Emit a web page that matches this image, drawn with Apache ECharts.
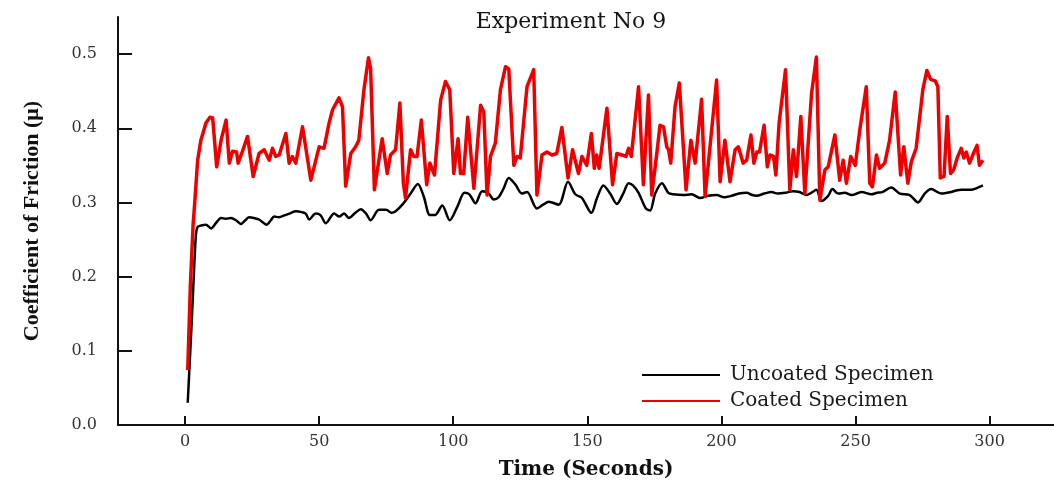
<!DOCTYPE html>
<html>
<head>
<meta charset="utf-8">
<script src="https://cdn.jsdelivr.net/npm/echarts@6/dist/echarts.min.js"></script>
<style>
html,body{margin:0;padding:0;background:#fff;}
#chart{width:1054px;height:487px;}
</style>
</head>
<body>
<div id="chart"></div>
<script>
const titleText = 'Experiment No 9';
const xName = 'Time (Seconds)';
const yName = 'Coefficient of Friction (\u03bc)';
const seriesNames = ['Uncoated Specimen', 'Coated Specimen'];
const xTicks = [0, 50, 100, 150, 200, 250, 300];
const yTicks = [0, 0.1, 0.2, 0.3, 0.4, 0.5];

const uncoatedTime = [1,2.5,3.5,4.1,4.7,6,7.8,9.7,11.5,13.4,15.3,17.1,19,20.8,22.5,23.9,25.7,27.6,30.4,32,33.2,35,37.3,39,41.3,43.5,45,46.3,48.7,50.5,52.5,55.6,57.5,59.3,61.1,63.5,65.5,67.5,69.2,72.3,75,77,78.5,81,84.1,86.8,89,91.3,93.2,95.9,98.7,101.5,104.2,106,108.3,110.8,113.2,115.1,116.9,118.8,120.7,123.2,125.6,127.5,131.2,133.5,135.6,139.3,142.8,145.5,148,151.5,153.6,156,158.5,161,163.5,165.4,167,169.1,171.8,173.4,175.3,177.8,180.2,182.1,185.8,188.9,192,195,198.2,201,203.8,206.5,209.4,211.5,213.1,216,218.7,221,223.8,226.5,229.1,231.7,233.5,235.4,237.3,239.8,241.4,243.5,246,248.5,250.5,252.2,255.9,258,260,263.3,266.5,270.2,273.3,275.8,278.2,281.9,285.6,287.5,289.4,293.1,295,297.5];
const uncoated = [0.030,0.14,0.22,0.258,0.267,0.269,0.270,0.265,0.272,0.279,0.278,0.279,0.276,0.271,0.276,0.280,0.279,0.277,0.270,0.276,0.281,0.280,0.283,0.285,0.288,0.287,0.285,0.277,0.285,0.283,0.272,0.285,0.281,0.285,0.279,0.286,0.291,0.285,0.276,0.290,0.290,0.286,0.288,0.297,0.312,0.325,0.308,0.283,0.283,0.296,0.276,0.294,0.313,0.311,0.299,0.315,0.312,0.304,0.307,0.319,0.333,0.324,0.312,0.314,0.292,0.297,0.301,0.297,0.328,0.311,0.306,0.286,0.306,0.323,0.312,0.298,0.313,0.326,0.323,0.313,0.292,0.289,0.312,0.326,0.313,0.311,0.310,0.311,0.306,0.309,0.310,0.307,0.309,0.312,0.313,0.310,0.309,0.312,0.314,0.312,0.313,0.315,0.314,0.310,0.313,0.317,0.302,0.309,0.318,0.312,0.313,0.310,0.312,0.314,0.311,0.313,0.314,0.320,0.312,0.310,0.300,0.312,0.318,0.312,0.314,0.316,0.317,0.317,0.319,0.323];

const coatedTime = [1,2,3,3.5,4.7,5.9,7.8,9.3,10.3,11.8,13.5,15.3,16.5,17.7,19.2,19.8,21.5,23.3,25.4,27.6,29.5,31.4,32.6,33.8,35.1,37.6,38.8,40,41.3,43.8,46.9,50,51.8,53.7,55,57.4,58.7,59.9,61.8,63.6,64.8,66.7,68.4,69.2,70.6,73.5,75.4,76.6,78.5,80.1,81.4,82.2,84.1,85.3,86.5,88.1,90.1,91.3,93,95.3,97.1,98.7,100.2,101.8,102.7,103.9,105.4,107.7,110.2,111.4,112.6,113.9,115.7,117.6,119.5,120.7,122.6,123.8,125,127.5,130,131.2,133.1,134.9,136.8,138.6,140.5,142.8,144.5,146.7,148,149.8,151.5,152.6,153.5,154.4,157.3,159.4,161,162.9,164.4,165.4,166.4,169.1,170.9,172.8,174,175.9,177.1,178.4,179.6,180.3,181.1,182.7,184.3,186.8,188.6,190.2,192.6,193.9,198.2,199.5,201.3,203.2,205.1,206.3,208.1,209.4,211,212.1,213.2,214.2,215.9,217.1,218.1,219.4,220.3,221.5,223.9,225.5,226.8,228,229.6,231.1,233.6,235.4,236.7,238.6,239.8,242.3,244.1,245.4,246.6,248.2,249.9,251.6,254,255.3,256.3,257.8,259,260.9,262.7,264.8,266.8,268,269.5,270.8,272.6,275.1,276.6,278,279.7,280.7,281.6,283,284.2,285.4,286.6,287.9,289.4,290.4,291.3,292.5,294.2,295.3,296.2,297.5];
const coated = [0.074,0.19,0.27,0.294,0.357,0.384,0.407,0.415,0.414,0.348,0.385,0.411,0.353,0.369,0.368,0.353,0.370,0.389,0.335,0.366,0.371,0.357,0.373,0.362,0.364,0.393,0.353,0.362,0.353,0.402,0.330,0.375,0.373,0.407,0.425,0.441,0.429,0.322,0.366,0.375,0.384,0.452,0.495,0.480,0.317,0.386,0.339,0.364,0.371,0.434,0.326,0.306,0.371,0.362,0.362,0.411,0.324,0.353,0.337,0.438,0.463,0.452,0.339,0.386,0.339,0.339,0.415,0.319,0.431,0.422,0.310,0.362,0.380,0.452,0.483,0.480,0.350,0.362,0.360,0.456,0.479,0.310,0.364,0.368,0.364,0.366,0.401,0.333,0.371,0.339,0.362,0.350,0.393,0.346,0.364,0.346,0.427,0.324,0.366,0.364,0.362,0.373,0.362,0.456,0.324,0.445,0.310,0.366,0.404,0.402,0.375,0.371,0.353,0.429,0.461,0.317,0.384,0.353,0.439,0.308,0.465,0.328,0.384,0.328,0.371,0.375,0.353,0.357,0.391,0.353,0.368,0.368,0.404,0.348,0.364,0.362,0.337,0.407,0.479,0.317,0.371,0.335,0.416,0.312,0.447,0.496,0.303,0.344,0.348,0.391,0.330,0.357,0.326,0.362,0.350,0.398,0.456,0.326,0.321,0.364,0.346,0.353,0.384,0.449,0.337,0.375,0.326,0.355,0.373,0.452,0.478,0.466,0.464,0.456,0.333,0.335,0.416,0.339,0.344,0.360,0.373,0.360,0.368,0.353,0.368,0.377,0.350,0.357];

function zip(xs, ys){ return xs.map((x,i)=>[x, ys[i]]); }

const chart = echarts.init(document.getElementById('chart'), null, {renderer:'canvas'});
const serif = 'DejaVu Serif';
chart.setOption({
  animation: false,
  backgroundColor: '#ffffff',
  title: {
    text: titleText,
    left: 566, top: 6, textAlign: 'center',
    textStyle: {fontFamily: serif, fontSize: 22, fontWeight: 'normal', color: '#151515'}
  },
  legend: {
    orient: 'vertical', left: 642, top: 365, padding: 0,
    itemWidth: 78, itemHeight: 2, itemGap: 6, icon: 'rect',
    textStyle: {fontFamily: serif, fontSize: 20, color: '#1a1a1a', padding: [0,0,0,5]},
    data: seriesNames
  },
  grid: {left: 118, right: 0, top: 17, bottom: 62, containLabel: false},
  xAxis: {
    type: 'value', min: -25, max: 324,
    name: xName, nameLocation: 'middle', nameGap: 35,
    nameTextStyle: {fontFamily: serif, fontSize: 20, fontWeight: 'bold', color: '#111'},
    axisLine: {show: true, onZero: false, lineStyle: {color: '#111', width: 2}},
    axisTick: {show: true, inside: true, length: 9, lineStyle: {color: '#111', width: 2}, customValues: xTicks},
    axisLabel: {fontFamily: serif, fontSize: 16, color: '#333', margin: 9, customValues: xTicks},
    splitLine: {show: false}
  },
  yAxis: {
    type: 'value', min: 0, max: 0.55,
    name: yName, nameLocation: 'middle', nameGap: 75,
    nameTextStyle: {fontFamily: 'Liberation Serif', fontSize: 22, fontWeight: 'bold', color: '#111'},
    axisLine: {show: true, onZero: false, lineStyle: {color: '#111', width: 2}},
    axisTick: {show: true, inside: true, length: 14, lineStyle: {color: '#111', width: 2}, customValues: yTicks},
    axisLabel: {fontFamily: serif, fontSize: 16, color: '#333', margin: 21, customValues: yTicks,
      formatter: v => v.toFixed(1)},
    splitLine: {show: false}
  },
  series: [
    {name: seriesNames[0], type: 'line', data: zip(uncoatedTime, uncoated), symbol: 'none', smooth: 0.3,
     lineStyle: {color: '#000', width: 2.5}, itemStyle: {color: '#000'}},
    {name: seriesNames[1], type: 'line', data: zip(coatedTime, coated), symbol: 'none', smooth: false,
     lineStyle: {color: '#ee0000', width: 3.5, join: 'round'}, itemStyle: {color: '#ee0000'}}
  ]
});
</script>
</body>
</html>
